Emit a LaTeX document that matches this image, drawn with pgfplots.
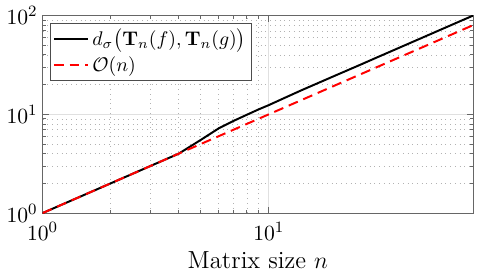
\documentclass[border=0pt]{standalone}
\usepackage{pgfplots}
\pgfplotsset{compat=1.18}
\usepackage{amsmath}
\begin{document}
\begin{tikzpicture}
\begin{axis}[
  scale only axis,
  width=218pt, height=100pt,
  xmode=log, ymode=log,
  xmin=1, xmax=80, ymin=1, ymax=100,
  xtick={1,10}, ytick={1,10,100},
  tick align=inside,
  major tick length=3pt, minor tick length=1.8pt,
  axis line style={draw=black!60},
  every tick/.style={black!60},
  grid=both,
  major grid style={draw=black!12, line width=0.5pt},
  minor grid style={draw=black!30, dotted, line width=0.35pt},
  xlabel={Matrix size $n$},
  xlabel style={font=\fontsize{12.5}{15}\selectfont, yshift=1pt},
  tick label style={font=\fontsize{10.8}{13}\selectfont},
  xticklabel style={yshift=-1pt},
  yticklabel style={xshift=1pt},
  legend style={at={(0.018,0.965)}, anchor=north west, draw=black!70, fill=white,
    font=\fontsize{10.2}{12}\selectfont, inner sep=1pt, row sep=0pt, line width=0.5pt},
  legend cell align=left,
]
\addplot[black, line width=1pt] coordinates {
(1,1) (2,2) (3,3) (4,4) (5,5.5) (6,7.2) (7,8.6) (8,9.9) (9,11.2) (10,12.4)
(12,15) (14,17.6) (16,20.1) (20,25.1) (25,31.3) (30,37.6) (40,50.1)
(50,62.6) (60,75.1) (70,87.6) (80,100)};
\addlegendentry{$d_\sigma\big(\mathbf{T}_n(f),\mathbf{T}_n(g)\big)$}
\addplot[red, line width=1pt, dash pattern=on 5pt off 3pt] coordinates {
(1,1) (2,2) (4,4) (10,10) (20,20) (40,40) (80,80)};
\addlegendentry{$\mathcal{O}(n)$}
\end{axis}
\path (current axis.north east) ++(3pt,0);
\end{tikzpicture}
\end{document}
